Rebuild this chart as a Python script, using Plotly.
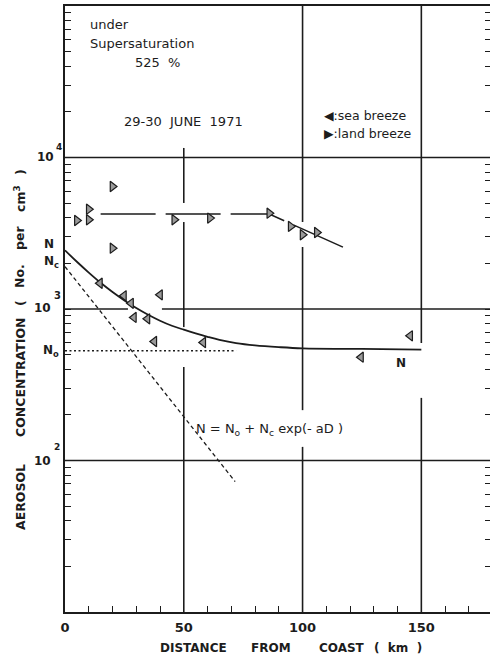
import plotly.graph_objects as go

# ---------------- data ----------------
land_x = [5, 10, 10, 20, 20, 46, 61, 86, 95, 100, 106]
land_y = [3840, 4560, 3880, 6440, 2520, 3880, 3980, 4290, 3510, 3090, 3200]

sea_x = [14.7, 24.8, 27.8, 29, 34.7, 37.6, 40, 58.2, 124.6, 145.3]
sea_y = [1480, 1222, 1090, 880, 861, 610, 1240, 601, 481, 665]

# land breeze trend (long dashed)
land_line_x = [15, 86, 117]
land_line_y = [4230, 4230, 2560]

# fitted curve N = No + Nc exp(-aD)
curve_x = [0, 5, 10, 15, 20, 25, 30, 35, 40, 45, 50, 55, 60, 65, 72, 80, 90, 100, 125, 150]
curve_y = [2440, 2050, 1740, 1490, 1295, 1140, 1015, 916, 837, 775, 730, 690, 655, 625, 595, 575, 560, 550, 545, 540]

# Nc exp(-aD) component (dashed)
nc_x = [0, 71.6]
nc_y = [1905, 72.6]

# No level (dotted)
no_x = [0, 72]
no_y = [530, 530]

# grid segments (km, concentration) – hand-drawn grid with gaps
vgrid = {
    50: [(11560, 5010), (3750, 760), (414, 10)],
    100: [(100000, 3750), (2565, 215), (123, 10)],
    150: [(100000, 597), (259, 10)],
}
hgrid = {
    10000: [(0, 178.9)],
    1000: [(0, 26.5), (40.8, 178.9)],
    100: [(0, 178.9)],
}

minor_ticks = [k * 10 ** e for e in range(1, 5) for k in range(1, 10)] + [100000]
x_tickvals = [0, 50, 100, 150]
x_ticktext = ["0", "50", "100", "150"]

# ---------------- layout geometry ----------------
W, H = 490, 659
ML, MR, MT, MB = 65, 0, 6, 47
PW, PH = W - ML - MR, H - MT - MB
X_MAX = 178.9
INK = "#1c1c1c"
FONT = "DejaVu Sans"


def pp(px, py):
    return (px - ML) / PW, (H - MB - py) / PH


fig = go.Figure()

# grid lines
gx, gy = [], []
for xv, segs in vgrid.items():
    for a, b in segs:
        gx += [xv, xv, None]
        gy += [a, b, None]
for yv, segs in hgrid.items():
    for a, b in segs:
        gx += [a, b, None]
        gy += [yv, yv, None]
fig.add_trace(go.Scatter(x=gx, y=gy, mode="lines", line=dict(color=INK, width=1.6),
                         hoverinfo="skip", showlegend=False))

# curves
fig.add_trace(go.Scatter(x=no_x, y=no_y, mode="lines",
                         line=dict(color=INK, width=1.3, dash="2px,2.5px"), showlegend=False))
fig.add_trace(go.Scatter(x=nc_x, y=nc_y, mode="lines",
                         line=dict(color=INK, width=1.3, dash="4px,3px"), showlegend=False))
fig.add_trace(go.Scatter(x=curve_x, y=curve_y, mode="lines", line_shape="spline",
                         line=dict(color=INK, width=1.8), showlegend=False))
fig.add_trace(go.Scatter(x=land_line_x, y=land_line_y, mode="lines",
                         line=dict(color=INK, width=1.5, dash="55px,10px"), showlegend=False))

# markers
fig.add_trace(go.Scatter(x=sea_x, y=sea_y, mode="markers", name="sea breeze",
                         marker=dict(symbol="triangle-left", size=9, color="#9a9a9a",
                                     line=dict(color=INK, width=1.2)), showlegend=False))
fig.add_trace(go.Scatter(x=land_x, y=land_y, mode="markers", name="land breeze",
                         marker=dict(symbol="triangle-right", size=9, color="#9a9a9a",
                                     line=dict(color=INK, width=1.2)), showlegend=False))
# dummy trace for the right-hand tick axis
fig.add_trace(go.Scatter(x=[None], y=[None], yaxis="y2", showlegend=False))

ann = []


def text(px, py, s, size=12, xanchor="center", bold=False, angle=0):
    x, y = pp(px, py)
    if bold:
        s = "<b>" + s + "</b>"
    ann.append(dict(x=x, y=y, xref="paper", yref="paper", text=s, showarrow=False,
                    xanchor=xanchor, yanchor="middle", textangle=angle,
                    font=dict(family=FONT, size=size, color=INK)))


# y tick labels
text(45, 157, "10", 12, bold=True)
text(59, 147, "4", 9, bold=True)
text(42, 308, "10", 12, bold=True)
text(57, 295, "3", 10, bold=True)
text(42, 461, "10", 12, bold=True)
text(57, 447, "2", 9, bold=True)

# left-side symbols
text(49, 244, "N", 12, bold=True)
text(51, 262, "N<sub>c</sub>", 12, bold=True)
text(51, 351, "N<sub>o</sub>", 12, bold=True)
text(401, 363, "N", 12, bold=True)

# y title words
for yc, w in [(497, "AEROSOL"), (377, "CONCENTRATION"), (303, "("), (276, "No."),
              (238, "per"), (199, "cm<sup>3</sup>"), (172, ")")]:
    text(20, yc, w, 12.5, bold=True, angle=-90)

# x title words
for xc, w in [(193, "DISTANCE"), (271, "FROM"), (342, "COAST"), (398, "(  km  )")]:
    text(xc, 648, w, 12, bold=True)

# header texts
text(88, 25, "under", 13, xanchor="left")
text(88, 43, "Supersaturation", 13, xanchor="left")
text(157, 63, "525  %", 13)
text(183, 121, "29-30  JUNE  1971", 13)
text(322, 115, "◀:sea breeze", 12.5, xanchor="left")
text(322, 133, "▶:land breeze", 12.5, xanchor="left")
text(269, 429, "N = N<sub>o</sub> + N<sub>c</sub> exp(- aD )", 13)

fig.update_layout(
    width=W, height=H,
    margin=dict(l=ML, r=MR, t=MT, b=MB),
    paper_bgcolor="white", plot_bgcolor="white",
    showlegend=False,
    annotations=ann,
    xaxis=dict(range=[0, X_MAX], showgrid=False, zeroline=False,
               showline=True, linecolor=INK, linewidth=1.6, mirror=True,
               tickvals=x_tickvals, ticktext=x_ticktext,
               ticks="inside", ticklen=6, tickwidth=1.3, tickcolor=INK,
               ticklabelstandoff=3,
               minor=dict(dtick=10, tick0=0, ticks="inside", ticklen=6,
                          tickwidth=1.3, tickcolor=INK, showgrid=False),
               tickfont=dict(family=FONT, size=13, color=INK, weight="bold")),
    yaxis=dict(type="log", range=[1, 5], showgrid=False, zeroline=False,
               showline=True, linecolor=INK, linewidth=1.6,
               tickvals=minor_ticks, ticks="inside", ticklen=6, tickwidth=1.3,
               tickcolor=INK, showticklabels=False),
    yaxis2=dict(type="log", range=[1, 5], overlaying="y", side="right", anchor="x",
                showgrid=False, zeroline=False, showline=False,
                tickvals=minor_ticks, ticks="inside", ticklen=5, tickwidth=1.3,
                tickcolor=INK, showticklabels=False),
)

fig.write_html("out.html")
